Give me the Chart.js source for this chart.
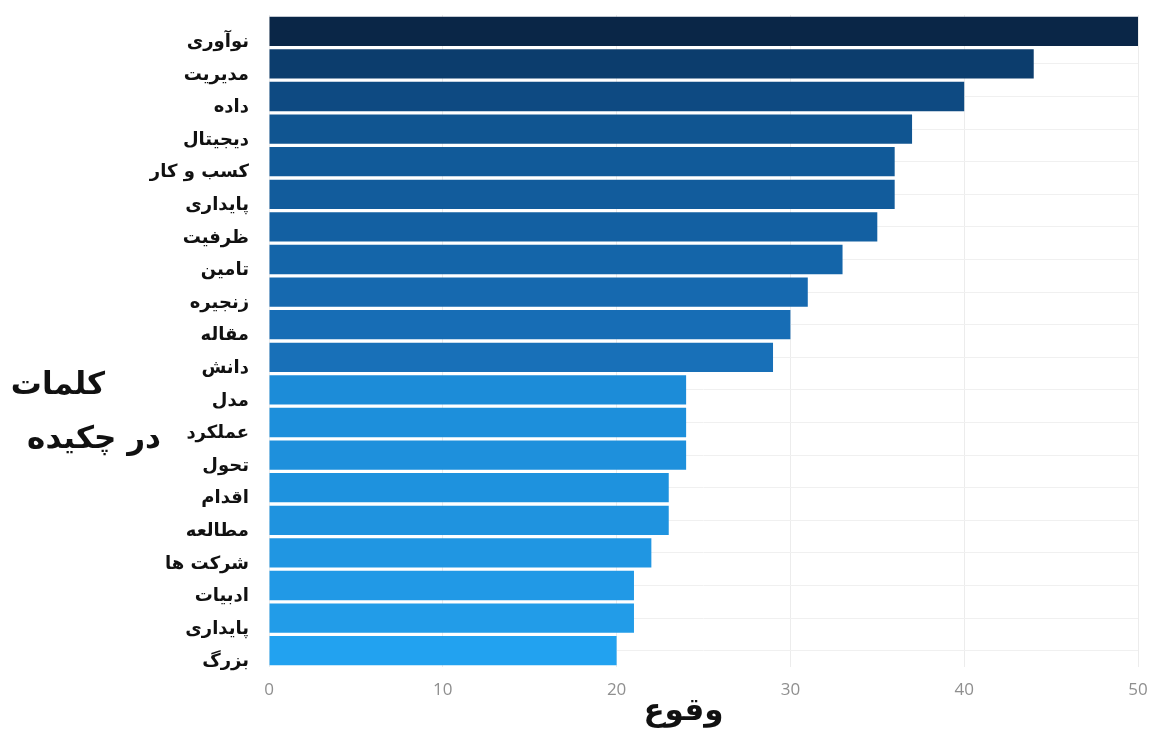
<!DOCTYPE html>
<html>
<head>
<meta charset="utf-8">
<script src="https://cdn.jsdelivr.net/npm/chart.js@4/dist/chart.umd.min.js"></script>
<style>
  html, body { margin: 0; padding: 0; background: #fff; }
  #wrap { position: relative; width: 1154px; height: 733px; }
</style>
</head>
<body>
<div id="wrap"><canvas id="chart"></canvas></div>
<script>
const words = ['نوآوری', 'مدیریت', 'داده', 'دیجیتال', 'کسب و کار', 'پایداری', 'ظرفیت', 'تامین', 'زنجیره', 'مقاله',
  'دانش', 'مدل', 'عملکرد', 'تحول', 'اقدام', 'مطالعه', 'شرکت ها', 'ادبیات', 'پایداری', 'بزرگ']
const counts = [50, 44, 40, 37, 36, 36, 35, 33, 31, 30, 29, 24, 24, 24, 23, 23, 22, 21, 21, 20]
const barColors = ['#0a2647', '#0c3d6d', '#0e4a82', '#105591', '#115a99', '#125c9c', '#1360a2', '#1465a9', '#1669af', '#176db5',
  '#1870b8', '#1c8cd8', '#1d8fdb', '#1e90dc', '#1e92de', '#1f93df', '#2096e2', '#2199e6', '#229ce8', '#22a2f0']
const yTitleLines = ['کلمات', 'در چکیده']
const xTitle = 'وقوع'

const arabicFont = '"DejaVu Sans", sans-serif'

// axis titles are drawn flat (not rotated), like in the picture
const titlesPlugin = {
  id: 'titles',
  afterDraw(chart) {
    const ctx = chart.ctx
    ctx.save()
    ctx.fillStyle = '#111'
    ctx.font = 'bold 31px ' + arabicFont
    ctx.textBaseline = 'middle'
    ctx.textAlign = 'center'
    ctx.fillText(yTitleLines[0], 58, 386)
    ctx.fillText(yTitleLines[1], 94, 440)
    const x = chart.scales.x
    ctx.fillText(xTitle, (x.left + x.right) / 2 - 20, 712)
    ctx.restore()
  }
}

new Chart(document.getElementById('chart'), {
  type: 'bar',
  data: {
    labels: words,
    datasets: [{
      data: counts,
      backgroundColor: barColors,
      barPercentage: 0.9,
      categoryPercentage: 1
    }]
  },
  plugins: [titlesPlugin],
  options: {
    indexAxis: 'y',
    responsive: true,
    maintainAspectRatio: false,
    animation: false,
    layout: { padding: { top: 15, right: 16, left: 0, bottom: 0 } },
    plugins: {
      legend: { display: false },
      tooltip: { enabled: false }
    },
    scales: {
      x: {
        min: 0,
        max: 50,
        ticks: {
          stepSize: 10,
          color: '#8f8f8f',
          padding: 13,
          font: { family: '"Open Sans", sans-serif', size: 17 }
        },
        grid: { color: '#ececec', drawTicks: false },
        border: { display: false },
        afterFit(scale) {
          scale.height = 66
          scale.paddingLeft = 0
          scale.paddingRight = 0
        }
      },
      y: {
        ticks: {
          color: '#111',
          padding: 20,
          labelOffset: 11,
          autoSkip: false,
          font: { family: arabicFont, size: 18, weight: 'bold' }
        },
        grid: { color: '#f0f0f0', offset: false, drawTicks: false },
        border: { display: false },
        afterFit(scale) {
          scale.width = 269
          scale.paddingTop = 0
          scale.paddingBottom = 0
        }
      }
    }
  }
})
</script>
</body>
</html>
